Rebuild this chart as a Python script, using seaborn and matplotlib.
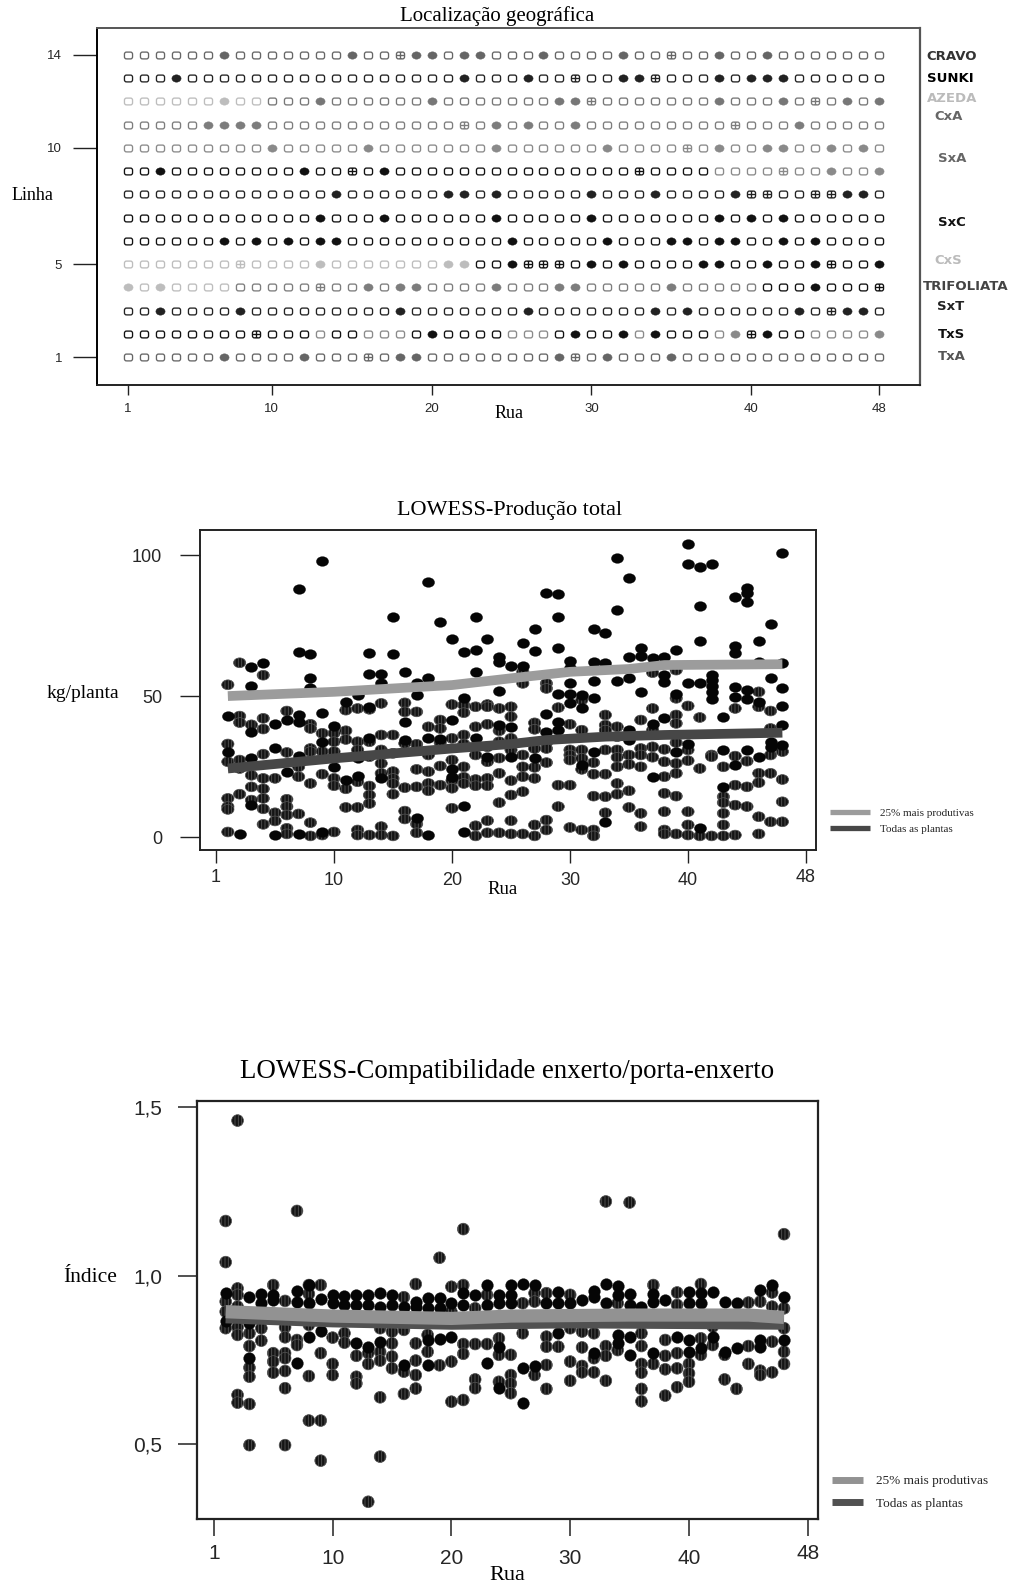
import numpy as np
import pandas as pd
import matplotlib
matplotlib.use("Agg")
import matplotlib.pyplot as plt
import seaborn as sns
from matplotlib.path import Path
from matplotlib.transforms import ScaledTranslation

# --- Configuration ---
W, H = 1014, 1584
SERIF = "Liberation Serif"
SANS = "Liberation Sans"

# --- Localizacao geografica (rua de cada planta marcada, por linha) ---
linhas = [14, 13, 12, 11, 10, 9, 8, 7, 6, 5, 4, 3, 2, 1]
ruas_cheias = {
    14: [7, 15, 19, 20, 22, 23, 27, 32, 38, 41],
    13: [4, 22, 26, 32, 33, 38, 40, 41, 42],
    12: [7, 13, 20, 28, 29, 38, 42, 46, 48],
    11: [6, 7, 8, 9, 24, 26, 29, 43],
    10: [10, 16, 24, 31, 38, 41, 42, 45, 47],
    9: [3, 12, 17, 45, 48],
    8: [14, 21, 22, 24, 30, 34, 39, 46, 47],
    7: [13, 17, 24, 30, 38, 40, 42],
    6: [7, 9, 11, 13, 14, 25, 31, 35, 36, 38, 39, 42, 44],
    5: [13, 21, 22, 25, 30, 32, 37, 38, 41, 44, 48],
    4: [1, 3, 16, 18, 19, 24, 28, 29, 35, 44],
    3: [3, 8, 18, 26, 34, 36, 43, 46, 47],
    2: [20, 29, 32, 34, 39, 41, 48],
    1: [7, 12, 18, 19, 28, 31, 35],
}
ruas_cruz = {
    14: [18, 35], 13: [29, 34], 12: [30, 44], 11: [22, 39], 10: [36],
    9: [15, 33, 42], 8: [40, 41, 44, 45], 7: [], 6: [], 5: [8, 26, 27, 28, 45],
    4: [13, 48], 3: [45], 2: [9, 40], 1: [16, 29],
}
# trechos de tom por linha: (ultima rua do trecho, cor)
tons_linha = {
    14: [(48, "#666666")],
    13: [(48, "#222222")],
    12: [(9, "#bdbdbd"), (48, "#777777")],
    11: [(48, "#7d7d7d")],
    10: [(48, "#8a8a8a")],
    9: [(37, "#111111"), (48, "#8a8a8a")],
    8: [(48, "#222222")],
    7: [(48, "#111111")],
    6: [(48, "#111111")],
    5: [(22, "#bdbdbd"), (48, "#111111")],
    4: [(7, "#bdbdbd"), (40, "#7d7d7d"), (48, "#111111")],
    3: [(48, "#222222")],
    2: [(12, "#111111"), (13, "#8a8a8a"), (15, "#111111"), (18, "#8a8a8a"), (24, "#111111"),
        (27, "#8a8a8a"), (32, "#111111"), (33, "#8a8a8a"), (37, "#111111"), (39, "#8a8a8a"),
        (43, "#111111"), (48, "#8a8a8a")],
    1: [(48, "#666666")],
}
porta_enxertos = ["CRAVO", "SUNKI", "AZEDA", "CxA", "SxA", "SxC", "CxS", "TRIFOLIATA", "SxT", "TxS", "TxA"]

# --- Producao total, kg/planta por rua (indice 0 = rua 1) ---
prod_pretos = [
    [43.1, 30.3], [1.2], [60.4, 53.7, 37.2, 28, 11.3], [61.8], [40, 31.7, 0.7], [41.5, 23.2],
    [87.9, 65.5, 43.3, 40.9, 28.7, 1.1], [64.8, 56.3, 52.7], [98, 43.9, 33.8, 1.9], [39.4, 24.7],
    [48, 20.4], [50.4, 28, 21.6], [65.1, 58, 46.2, 35], [58, 54.7, 20.8], [77.9, 64.8],
    [58.4, 40.9, 34.4], [54.7, 50.4, 6.9], [90.5, 56.3, 35.3, 0.7], [76.4, 34.6],
    [70.4, 41.5, 24.3, 21.4], [65.5, 49.2, 11, 1.8], [78.1, 66.3, 58.5, 35.3], [70.1, 28.5],
    [63.7, 62.2, 51.8, 39.7], [60.8, 39, 28.3], [68.9, 60.8], [73.8, 66, 27.9], [86.4, 43.5, 37.3],
    [86.2, 78.1, 66.9, 50.7, 40.9, 37.9], [62.5, 59.8, 54.5, 50.7, 47.4], [50.4, 45.6, 25.5],
    [73.8, 62.2, 55.3, 49.2, 30.3], [72.2, 61.8, 5.4], [98.8, 80.5, 55.4],
    [91.7, 63.7, 56.5, 37.9, 34.4], [67.1, 64.2, 51.4], [63.4, 40, 21.2], [63.7, 57.4, 55.1, 42.1],
    [66.3, 50.9, 30.3], [103.9, 96.7, 54.7, 33], [95.6, 82, 69.6, 54.7, 3.1],
    [96.9, 57.4, 55.7, 53.7, 51.5, 48.9], [42.7, 30.9, 17.8], [85.3, 67.8, 65.1, 53.3, 49.8, 25.5],
    [88.2, 86.6, 83.5, 52.1, 48.8, 30.9], [69.6, 62.2, 48, 28.3], [75.5, 56.3, 33.8, 32],
    [100.6, 61.8, 52.7, 46.6, 39.7, 32.6],
]
prod_hachurados = [
    [54, 33, 26.7, 13.7, 10.8, 9.8, 1.8], [61.8, 42.9, 40.6, 27.3, 24.3, 15.2],
    [39.8, 21.9, 17.8, 13.1], [57.4, 42.1, 38.3, 29.4, 20.8, 17.1, 13.7, 10, 4.5], [20.8, 8.6, 5.7],
    [44.7, 30, 13.4, 10.8, 7.8, 3.1, 1.1], [24.9, 21.4, 8.2], [40, 38.5, 31.4, 30.3, 19, 5.1, 0.4],
    [36.8, 30.3, 22.3, 0.7], [36.8, 33.8, 30.3, 20.8, 18.2, 1.8], [45, 37.7, 34.6, 17.1, 10.5],
    [45.6, 33.8, 30.9, 19.6, 10.5, 2.5, 0.7], [45.3, 33.8, 28.5, 18.1, 14.9, 11.9, 0.7],
    [47.4, 36.2, 30.9, 26.1, 22.6, 3.7, 0.7], [36.2, 29.7, 23.2, 20.8, 19, 15.2, 0.4],
    [47.6, 44.4, 33.2, 17.5, 9.2, 6.4], [44.4, 32.9, 24, 17.8, 4.6, 1.5], [39.1, 29.1, 23.2, 19, 16.4],
    [41.5, 38.5, 33.5, 25.2, 18.4], [47, 35, 27.3, 20, 17.3, 10.2],
    [46.8, 44.1, 36.2, 33, 24.9, 21.2, 19], [46.2, 39.1, 29.1, 20.4, 18.2, 4, 0.4],
    [47, 46.2, 40, 32, 26.7, 20.8, 18.2, 5.8, 1.5], [45.6, 37.7, 33.8, 28, 22.6, 12.2, 1.5],
    [46.2, 42.7, 35, 30.9, 20, 14.9, 5.8, 1.1], [58.6, 54.5, 29.1, 24.9, 21.4, 16.1, 1.1],
    [40.5, 38.2, 31.4, 24.7, 20.8, 4.3, 0.4], [54.5, 52.7, 33.4, 31.4, 26.4, 6, 2.5],
    [45.9, 18.4, 10.8], [40, 30.9, 29.1, 27.3, 18.4, 3.4], [48.6, 37.9, 30.9, 27.9, 24, 2.5],
    [26.4, 22.3, 14.5, 2.5, 0.4], [43.3, 39.7, 37.9, 30.9, 22.3, 14.3, 8.6],
    [39.1, 35.6, 30.9, 28.3, 24.9, 19, 15.2], [29.1, 25.8, 16.4, 10.5],
    [41.5, 31.4, 29.1, 24.9, 8.4, 3.7], [58.3, 45.6, 37.9, 32, 28.3],
    [31.1, 26.7, 21.4, 15.5, 9, 2.5, 1.1], [59.2, 49.2, 43.3, 40.3, 33.5, 26.1, 22.6, 14.5, 1.1],
    [46.5, 30.9, 27.1, 9, 4.3, 0.7], [42.4, 24.3, 0.4], [29.1, 28.5, 0.4],
    [24.9, 14.3, 12.2, 8.4, 4.3, 0.4], [45.6, 28.7, 18.4, 11.3, 0.7], [26.9, 17.8, 10.8],
    [51.5, 46.2, 22.6, 19.3, 7.2, 1.1], [44.7, 38.5, 29.1, 22.6, 5.4], [30.3, 20.4, 12.5, 5.4],
]
prod_lowess_rua = [1, 10, 20, 25, 30, 35, 38, 48]
prod_lowess_25 = [50, 51.5, 53.9, 56.3, 58.6, 59.6, 61, 61.3]
prod_lowess_rua_todas = [1, 10, 20, 25, 28, 33, 38, 48]
prod_lowess_todas = [24.3, 27.9, 31.4, 33, 34.4, 35.6, 36.2, 37]

# --- Compatibilidade enxerto/porta-enxerto, indice por rua ---
comp_pretos = [
    [.948, .864], [], [.936, .859, .755], [.945, .918], [.943, .928], [], [.953, .923, .740],
    [.972, .918, .819], [.930, .837], [.943, .918], [.940, .913], [.943, .913, .799],
    [.943, .913, .789], [.948, .908, .804], [.943, .913], [.908, .735], [.923, .908],
    [.933, .903, .809, .735], [.933, .903, .811], [.918, .819], [.948, .913], [.943],
    [.972, .913, .740], [.943, .918, .789, .666], [.972, .943, .918], [.974, .725, .623],
    [.972, .732], [.918], [.950, .918, .829], [.918], [.928], [.953, .938, .770],
    [.974, .918], [.969, .943, .824, .799], [.946, .913, .819, .765], [.908], [.946, .923, .770],
    [.928], [.819], [.950, .918, .809, .774], [.948, .918, .784], [.951, .819], [.923, .774],
    [.920, .784], [], [.957, .809, .789], [.972], [.936, .809],
]
comp_hachurados = [
    [1.162, 1.04, .923, .893, .844], [1.46, .962, .943, .908, .847, .824, .646, .623],
    [.829, .791, .727, .700, .619, .497], [.844, .807], [.972, .770, .745, .712],
    [.925, .847, .817, .770, .755, .717, .666, .497], [1.192, .809, .794],
    [.972, .946, .854, .702, .570], [.972, .770, .570, .451], [.816, .738, .705], [.829, .801],
    [.762, .700, .680], [.770, .738, .329], [.844, .774, .748, .639, .463],
    [.834, .799, .760, .725], [.936, .839, .715, .649], [.975, .799, .748, .705, .665],
    [.824, .774], [1.053, .734], [.967, .893, .745, .626], [1.138, .972, .797, .768, .631],
    [.903, .797, .692, .666], [.943, .797], [.814, .765, .685], [.765, .705, .680, .651],
    [.918, .829], [.948, .923, .705], [.948, .819, .789, .735, .664], [.789],
    [.943, .844, .745, .688], [.834, .787, .732, .713], [.829, .755, .713],
    [1.22, .791, .762, .688], [.918, .779], [1.217], [.829, .791, .738, .712, .664, .627],
    [.972, .738], [.809, .762, .722, .644], [.950, .913, .770, .725, .669], [.738, .710, .685],
    [.975, .814, .765], [.849, .794], [.765, .692], [.664], [.920, .791, .738],
    [.923, .718, .705], [.950, .908, .804, .713], [1.123, .903, .844, .774, .738],
]
comp_lowess_rua = [1, 10, 20, 25, 35, 40, 45, 48]
comp_lowess_25 = [.893, .880, .873, .880, .883, .883, .883, .876]
comp_lowess_rua_todas = [1, 10, 20, 30, 40, 48]
comp_lowess_todas = [.878, .866, .859, .863, .861, .859]


def por_rua(listas):
    rua = [i + 1 for i, vals in enumerate(listas) for _ in vals]
    val = [v for vals in listas for v in vals]
    return pd.DataFrame({"rua": rua, "valor": val})


def cria_eixo(esq, topo, dir_, base):
    return fig.add_axes([esq / W, 1 - base / H, (dir_ - esq) / W, (base - topo) / H])


def escreve(x, y, s, family=SERIF, size=12, ha="center", color="black", weight="normal"):
    fig.text(x / W, 1 - y / H, s, family=family, size=size, ha=ha, va="center", color=color, weight=weight)


def contorno(ax, cor_lados="#222222", lw=1.4):
    for lado in ax.spines.values():
        lado.set_visible(True)
        lado.set_color(cor_lados)
        lado.set_linewidth(lw)


def sobe_rotulos(ax, quanto):
    # os rotulos "1" e "48" ficam um pouco acima dos demais no original
    labs = ax.get_xticklabels()
    for lab in (labs[0], labs[-1]):
        lab.set_transform(lab.get_transform() + ScaledTranslation(0, quanto / 72, fig.dpi_scale_trans))


sns.set_style("white")
plt.rcParams["font.family"] = [SANS]
plt.rcParams["hatch.linewidth"] = 0.6

fig = plt.figure(figsize=(W / 100, H / 100), dpi=100)

# marcadores
r = 0.5
a, b = 1.0, 0.84
canto = [(-a + r, -b), (a - r, -b), (a, -b), (a, -b + r), (a, b - r), (a, b), (a - r, b), (-a + r, b),
         (-a, b), (-a, b - r), (-a, -b + r), (-a, -b), (-a + r, -b)]
codes = [Path.MOVETO, Path.LINETO, Path.CURVE3, Path.CURVE3, Path.LINETO, Path.CURVE3, Path.CURVE3, Path.LINETO,
         Path.CURVE3, Path.CURVE3, Path.LINETO, Path.CURVE3, Path.CURVE3]
caixa = Path(canto, codes)
caixa_cruz = Path(canto + [(-a, 0), (a, 0), (0, -b), (0, b)],
                  codes + [Path.MOVETO, Path.LINETO, Path.MOVETO, Path.LINETO])
circ = Path.unit_circle()
elipse = Path(circ.vertices * np.array([1.0, 0.8]), circ.codes)

# --- 1. Localizacao geografica ---
ax1 = cria_eixo(97, 28, 920, 385)
registros = []
for linha in linhas:
    inicio = 1
    for fim, cor in tons_linha[linha]:
        for rua in range(inicio, fim + 1):
            tipo = "cheia" if rua in ruas_cheias[linha] else "cruz" if rua in ruas_cruz[linha] else "vazia"
            registros.append({"rua": rua, "linha": linha, "tipo": tipo, "cor": cor})
        inicio = fim + 1
mapa = pd.DataFrame(registros)
for (tipo, cor), sub in mapa.groupby(["tipo", "cor"]):
    if tipo == "cheia":
        sns.scatterplot(data=sub, x="rua", y="linha", ax=ax1, marker=elipse, s=44, color=cor,
                        edgecolor=cor, linewidth=0.3, legend=False)
    else:
        sns.scatterplot(data=sub, x="rua", y="linha", ax=ax1, marker=caixa if tipo == "vazia" else caixa_cruz,
                        s=34, facecolor="white", edgecolor=cor, linewidth=0.95, legend=False)
ax1.set_xlim(-0.94, 50.56)
ax1.set_ylim(-0.205, 15.16)
ax1.set_xticks([1, 10, 20, 30, 40, 48], ["1", "10", "20", "30", "40", "48"])
ax1.set_yticks([1, 5, 10, 14], ["1", "5", "10", "14"])
ax1.tick_params(axis="x", length=7.2, width=1, pad=5.5, labelsize=9.5, bottom=True, color="#222222")
ax1.tick_params(axis="y", length=17, width=1, pad=8, labelsize=9.5, left=True, color="#222222")
ax1.set_xlabel("")
ax1.set_ylabel("")
contorno(ax1)
ax1.spines["left"].set_color("black")
ax1.spines["top"].set_color("#555555")
ax1.spines["right"].set_color("#555555")
ax1.spines["right"].set_linewidth(1.6)
escreve(497, 16, "Localização geográfica", size=15)
escreve(32, 196, "Linha", size=13)
escreve(509, 413, "Rua", size=13)
rotulo_x = [952, 950, 952, 949, 952, 952, 948, 966, 951, 951, 952]
rotulo_y = [57, 79, 98, 117, 158, 222, 261, 286, 307, 335, 357]
rotulo_cor = ["#333333", "#000000", "#bbbbbb", "#666666", "#666666", "#111111", "#bbbbbb", "#444444", "#222222", "#111111", "#555555"]
for x, y, s, c in zip(rotulo_x, rotulo_y, porta_enxertos, rotulo_cor):
    escreve(x, y, s, family="DejaVu Sans", size=9.5, color=c, weight="bold")

# pontos dos dois graficos LOWESS
estilo_hach = dict(facecolor="#141414", edgecolor="#565656", hatch="|||||", linewidth=0.5, legend=False)
estilo_preto = dict(color="#050505", edgecolor="#050505", linewidth=0.2, legend=False)

# --- 2. LOWESS producao ---
ax2 = cria_eixo(200, 530, 816, 850)
sns.scatterplot(data=por_rua(prod_hachurados), x="rua", y="valor", ax=ax2, marker=elipse, s=78, **estilo_hach)
sns.scatterplot(data=por_rua(prod_pretos), x="rua", y="valor", ax=ax2, marker=elipse, s=78, **estilo_preto)
l_todas = sns.lineplot(x=prod_lowess_rua_todas, y=prod_lowess_todas, ax=ax2, color="#474747", linewidth=7,
                       solid_capstyle="butt", errorbar=None, label="Todas as plantas").get_lines()[-1]
l_25 = sns.lineplot(x=prod_lowess_rua, y=prod_lowess_25, ax=ax2, color="#9c9c9c", linewidth=7,
                    solid_capstyle="butt", errorbar=None, label="25% mais produtivas").get_lines()[-1]
ax2.set_xlim(-1.36, 50.85)
ax2.set_ylim(-4.6, 108.9)
ax2.set_xticks([0, 10, 20, 30, 40, 50], ["1", "10", "20", "30", "40", "48"])
ax2.set_yticks([0, 50, 100], ["0", "50", "100"])
ax2.tick_params(axis="x", length=9.4, width=1, pad=6.5, labelsize=13, bottom=True, color="#222222")
ax2.tick_params(axis="y", length=14.4, width=1, pad=13, labelsize=13, left=True, color="#222222")
ax2.set_xlabel("")
ax2.set_ylabel("")
contorno(ax2)
sobe_rotulos(ax2, 2)
leg = ax2.legend(handles=[l_25, l_todas], loc="upper left", bbox_to_anchor=(830 / W, 1 - 808 / H),
                 bbox_transform=fig.transFigure, frameon=False, borderpad=0, borderaxespad=0,
                 handlelength=3.6, handletextpad=0.9, labelspacing=0.6,
                 prop={"family": SERIF, "size": 8})
for ln in leg.get_lines():
    ln.set_linewidth(3.8)
escreve(510, 511, "LOWESS-Produção total", size=16)
escreve(83, 693, "kg/planta", size=14)
escreve(503, 889, "Rua", size=13.5)

# --- 3. LOWESS compatibilidade ---
ax3 = cria_eixo(197.3, 1100.7, 818, 1519.3)
sns.scatterplot(data=por_rua(comp_hachurados), x="rua", y="valor", ax=ax3, marker="o", s=72, **estilo_hach)
sns.scatterplot(data=por_rua(comp_pretos), x="rua", y="valor", ax=ax3, marker="o", s=72, **estilo_preto)
l_todas = sns.lineplot(x=comp_lowess_rua_todas, y=comp_lowess_todas, ax=ax3, color="#515151", linewidth=9.5,
                       solid_capstyle="butt", errorbar=None, label="Todas as plantas").get_lines()[-1]
l_25 = sns.lineplot(x=comp_lowess_rua, y=comp_lowess_25, ax=ax3, color="#929292", linewidth=9.5,
                    solid_capstyle="butt", errorbar=None, label="25% mais produtivas").get_lines()[-1]
ax3.set_xlim(-1.39, 50.86)
ax3.set_ylim(0.277, 1.519)
ax3.set_xticks([0, 10, 20, 30, 40, 50], ["1", "10", "20", "30", "40", "48"])
ax3.set_yticks([0.5, 1.0, 1.5], ["0,5", "1,0", "1,5"])
ax3.tick_params(axis="x", length=12, width=1.1, pad=9.5, labelsize=15, bottom=True, color="#222222")
ax3.tick_params(axis="y", length=13.7, width=1.1, pad=11.5, labelsize=15, left=True, color="#222222")
ax3.set_xlabel("")
ax3.set_ylabel("")
contorno(ax3, lw=1.6)
sobe_rotulos(ax3, 4)
leg = ax3.legend(handles=[l_25, l_todas], loc="upper left", bbox_to_anchor=(832 / W, 1 - 1475 / H),
                 bbox_transform=fig.transFigure, frameon=False, borderpad=0, borderaxespad=0,
                 handlelength=2.35, handletextpad=1.0, labelspacing=0.78,
                 prop={"family": SERIF, "size": 9.5})
for ln in leg.get_lines():
    ln.set_linewidth(5)
escreve(507, 1071, "LOWESS-Compatibilidade enxerto/porta-enxerto", size=19.4)
escreve(90, 1278, "Índice", size=15.5)
escreve(507, 1575, "Rua", size=16)

fig.savefig("out.png", dpi=100)
